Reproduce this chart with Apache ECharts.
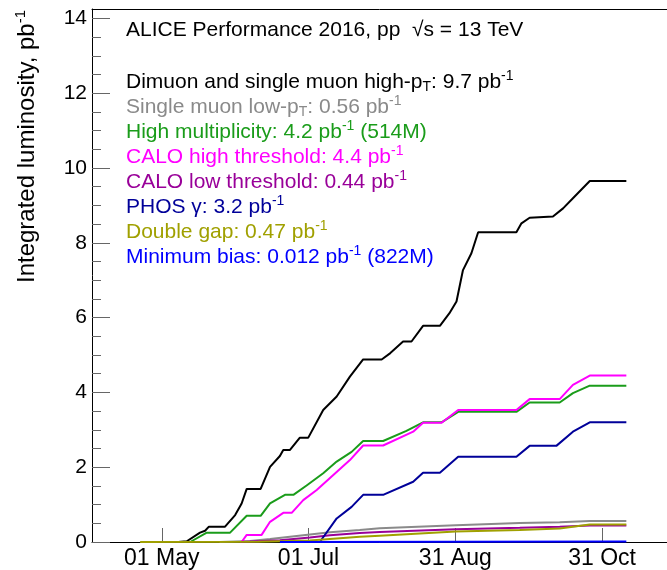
<!DOCTYPE html>
<html><head><meta charset="utf-8">
<script src="https://cdn.jsdelivr.net/npm/echarts@6/dist/echarts.min.js"></script>
<style>html,body{margin:0;padding:0;background:#fff}#c{width:667px;height:570px}</style>
</head><body><div id="c"></div>
<script>
const FONT = 'Liberation Sans';
// x values: days since 01 May 2016
const xMin = -29, xMax = 210;
const yMin = 0, yMax = 14.25;
const tickDays = [0, 61, 122, 183];
const tickLabels = ['01 May', '01 Jul', '31 Aug', '31 Oct'];
const yTicks = [0, 2, 4, 6, 8, 10, 12, 14];

const titleText = 'ALICE Performance 2016, pp  \u221As = 13 TeV';
const yTitle = '{m|Integrated luminosity, pb}{s|-1}';

const seriesNames = [
  'Dimuon and single muon high-pT: 9.7 pb-1',
  'Single muon low-pT: 0.56 pb-1',
  'High multiplicity: 4.2 pb-1 (514M)',
  'CALO high threshold: 4.4 pb-1',
  'CALO low threshold: 0.44 pb-1',
  'PHOS \u03B3: 3.2 pb-1',
  'Double gap: 0.47 pb-1',
  'Minimum bias: 0.012 pb-1 (822M)'
];
const legendRich = [
  'Dimuon and single muon high-p{sub|T}: 9.7 pb{sup|-1}',
  'Single muon low-p{sub|T}: 0.56 pb{sup|-1}',
  'High multiplicity: 4.2 pb{sup|-1} (514M)',
  'CALO high threshold: 4.4 pb{sup|-1}',
  'CALO low threshold: 0.44 pb{sup|-1}',
  'PHOS \u03B3: 3.2 pb{sup|-1}',
  'Double gap: 0.47 pb{sup|-1}',
  'Minimum bias: 0.012 pb{sup|-1} (822M)'
];
const seriesColors = ['#000000', '#8a8a8a', '#1a9c1a', '#ff00ff', '#990099', '#000099', '#a0a000', '#0000ff'];

const dimuon = [[6.8,0],[10.4,0.02],[15.9,0.25],[18.0,0.30],[19.6,0.41],[26.3,0.41],[30.5,0.72],[33.2,1.03],[35.3,1.42],[41.1,1.42],[45.0,2.01],[49.1,2.30],[50.5,2.46],[53.3,2.46],[57.4,2.79],[60.9,2.79],[67.1,3.53],[72.7,3.89],[78.2,4.42],[83.7,4.88],[91.4,4.88],[95,5.05],[100.3,5.36],[103.8,5.36],[108.6,5.78],[115.6,5.78],[119.5,6.11],[122.5,6.43],[125.2,7.27],[128.7,7.72],[131.5,8.28],[147.4,8.28],[149.5,8.52],[152.9,8.67],[162.6,8.70],[166.8,8.92],[170.9,9.19],[177.9,9.65],[193.1,9.65]];
const muonLow = [[24,0],[36.7,0.03],[45,0.08],[61.6,0.20],[69.9,0.26],[82.3,0.32],[90.6,0.37],[122.2,0.45],[148.8,0.51],[165.4,0.53],[177.9,0.56],[193.1,0.56]];
const highMult = [[11.8,0],[18.7,0.25],[28.4,0.25],[35.3,0.70],[41.1,0.70],[45.0,1.03],[51.2,1.26],[54.7,1.26],[60.2,1.51],[67.1,1.84],[72.7,2.15],[78.9,2.41],[83.7,2.70],[92.0,2.70],[101.7,2.97],[108.6,3.20],[116.3,3.20],[123.2,3.48],[147.4,3.48],[152.9,3.73],[165.4,3.73],[170.9,3.98],[177.9,4.18],[193.1,4.18]];
const caloHigh = [[33.2,0],[35.3,0.19],[41.5,0.19],[45.0,0.54],[50.5,0.78],[54.0,0.78],[58.8,1.12],[64.4,1.39],[71.3,1.79],[78.2,2.19],[83.7,2.58],[92.0,2.58],[104.5,2.95],[108.6,3.19],[116.3,3.19],[123.2,3.53],[147.4,3.53],[152.9,3.82],[165.4,3.82],[170.9,4.20],[177.9,4.45],[193.1,4.45]];
const caloLow = [[32.5,0],[49.1,0.05],[61.6,0.12],[69.9,0.18],[82.3,0.24],[90.6,0.27],[122.2,0.34],[148.8,0.38],[165.4,0.41],[177.9,0.44],[193.1,0.44]];
const phos = [[65.7,0],[72.7,0.63],[78.9,0.94],[83.7,1.26],[92.0,1.26],[104.5,1.61],[108.6,1.85],[115.6,1.85],[123.2,2.28],[147.4,2.28],[152.9,2.57],[164.0,2.57],[170.9,2.95],[177.9,3.20],[193.1,3.20]];
const doubleGap = [[-9,0],[40,0.01],[61.6,0.04],[69.9,0.08],[82.3,0.14],[90.6,0.17],[122.2,0.28],[148.8,0.32],[165.4,0.36],[177.9,0.47],[193.1,0.47]];
const minBias = [[49.1,0],[120,0.006],[193.1,0.012]];

const seriesData = [dimuon, muonLow, highMult, caloHigh, caloLow, phos, doubleGap, minBias];

const chart = echarts.init(document.getElementById('c'), null, {renderer: 'canvas'});
const richStyles = {
  sup: {fontSize: 14, lineHeight: 13, verticalAlign: 'top', fontFamily: FONT},
  sub: {fontSize: 14, lineHeight: 13, verticalAlign: 'bottom', fontFamily: FONT}
};
const option = {
  animation: false,
  backgroundColor: '#ffffff',
  textStyle: {fontFamily: FONT},
  title: {
    text: titleText, left: 126, top: 20, padding: 0,
    textStyle: {fontSize: 21, fontWeight: 'normal', color: '#000', fontFamily: FONT, lineHeight: 21}
  },
  legend: {
    orient: 'vertical', left: 121, top: 69.5, padding: 0, itemGap: 0,
    itemWidth: 0, itemHeight: 25, icon: 'none', selectedMode: false,
    data: seriesNames.map((n, i) => ({name: n, textStyle: {color: seriesColors[i]}})),
    formatter: name => legendRich[seriesNames.indexOf(name)],
    textStyle: {fontSize: 21, lineHeight: 25, fontFamily: FONT, rich: richStyles}
  },
  grid: {left: 92, right: 0, top: 9, bottom: 28},
  xAxis: [{
    type: 'value', min: xMin, max: xMax,
    axisLine: {show: true, onZero: false, lineStyle: {color: '#000', width: 1}},
    axisTick: {show: true, inside: true, length: 14, customValues: tickDays, lineStyle: {color: '#666'}},
    axisLabel: {customValues: tickDays, margin: 5, fontSize: 23, color: '#000', fontFamily: FONT,
      formatter: v => tickLabels[tickDays.indexOf(v)]},
    splitLine: {show: false}
  }, {
    type: 'value', position: 'top', min: xMin, max: xMax,
    axisLine: {show: true, onZero: false, lineStyle: {color: '#000', width: 1}},
    axisTick: {show: false}, axisLabel: {show: false}, splitLine: {show: false}
  }],
  yAxis: {
    type: 'value', min: yMin, max: yMax, interval: 2,
    axisLine: {show: true, onZero: false, lineStyle: {color: '#000', width: 1}},
    axisTick: {show: true, inside: true, length: 18, customValues: yTicks, lineStyle: {color: '#666'}},
    minorTick: {show: true, splitNumber: 4, length: 9, lineStyle: {color: '#666'}},
    axisLabel: {customValues: yTicks, margin: 5, fontSize: 21, color: '#000', fontFamily: FONT},
    splitLine: {show: false}, minorSplitLine: {show: false}
  },
  graphic: [{
    type: 'text', x: 27, y: 10, rotation: Math.PI / 2,
    style: {
      text: yTitle, align: 'right', verticalAlign: 'middle', fill: '#000',
      font: '24px ' + FONT,
      rich: {
        m: {fontSize: 24, fontFamily: FONT, lineHeight: 28, fill: '#000'},
        s: {fontSize: 15, fontFamily: FONT, lineHeight: 15, verticalAlign: 'top', fill: '#000'}
      }
    }
  }],
  series: seriesNames.map((n, i) => ({
    name: n, type: 'line', data: seriesData[i], xAxisIndex: 0,
    showSymbol: false, symbol: 'none', smooth: false,
    lineStyle: {color: seriesColors[i], width: 2},
    itemStyle: {color: seriesColors[i]},
    emphasis: {disabled: true}
  }))
};
chart.setOption(option);
</script>
</body></html>
